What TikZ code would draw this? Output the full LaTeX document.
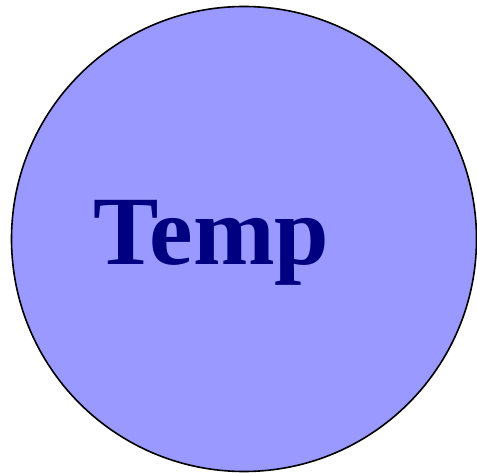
\documentclass[tikz,border=0pt]{standalone}
\usepackage{fontspec}
\setmainfont{Liberation Serif}
\definecolor{tempfill}{HTML}{9999FF}
\definecolor{tempnavy}{HTML}{000080}

\begin{document}
\begin{tikzpicture}[x=1pt,y=1pt]
  \useasboundingbox (0,0) rectangle (477,472);
  % The state circle
  \node[circle,draw=black,line width=1.6pt,fill=tempfill,
        minimum size=465pt,inner sep=0pt] (temp) at (244,233) {};

  % Its label
  \node[anchor=base,inner sep=0pt,text=tempnavy,
        font=\fontsize{98}{98}\selectfont\bfseries] (templabel) at (211.3,207) {Temp};
\end{tikzpicture}
\end{document}
